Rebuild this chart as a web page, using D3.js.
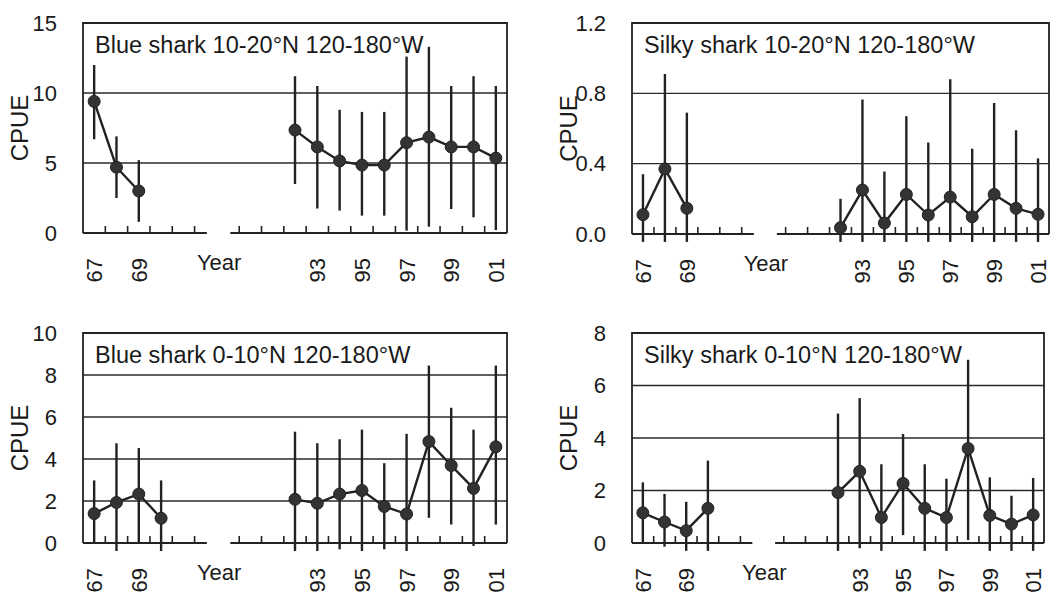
<!DOCTYPE html>
<html><head><meta charset="utf-8">
<script src="https://cdn.jsdelivr.net/npm/d3@7"></script>
<style>
body{margin:0;background:#fff}
text{font-family:"Liberation Sans",Arial,sans-serif;fill:#1a1a1a}
</style>
</head><body><svg id="c" width="1062" height="600"></svg>
<script>
// x categories (one band per year; "gap" is the axis break)
const categories = ["67","68","69","70","71","72","gap","90","91","92","93","94","95","96","97","98","99","00","01"];
const tickLabels = ["67","69","93","95","97","99","01"];

// Blue shark 10-20N
const blue1020Years = ["67","68","69","92","93","94","95","96","97","98","99","00","01"];
const blue1020Mean  = [9.4,4.7,3.0,7.35,6.15,5.15,4.85,4.85,6.45,6.85,6.15,6.15,5.35];
const blue1020Lo    = [6.7,2.5,0.8,3.5,1.75,1.6,1.24,1.24,0.17,0.45,1.71,1.12,0.21];
const blue1020Hi    = [12.0,6.9,5.2,11.2,10.5,8.8,8.65,8.65,12.6,13.3,10.5,11.2,10.5];
const blue1020Ticks = [0,5,10,15];

// Silky shark 10-20N
const silky1020Years = ["67","68","69","92","93","94","95","96","97","98","99","00","01"];
const silky1020Mean  = [0.11,0.37,0.146,0.036,0.25,0.062,0.225,0.108,0.21,0.098,0.225,0.146,0.112];
const silky1020Lo    = [-0.045,-0.045,-0.045,-0.045,-0.045,-0.045,-0.045,-0.045,-0.045,-0.045,-0.045,-0.045,-0.045];
const silky1020Hi    = [0.34,0.91,0.69,0.2,0.765,0.355,0.67,0.52,0.88,0.485,0.745,0.59,0.43];
const silky1020Ticks = [0,0.4,0.8,1.2];

// Blue shark 0-10N
const blue010Years = ["67","68","69","70","92","93","94","95","96","97","98","99","00","01"];
const blue010Mean  = [1.4,1.93,2.33,1.18,2.08,1.89,2.33,2.5,1.74,1.38,4.83,3.69,2.6,4.58];
const blue010Lo    = [0,-0.38,0,-0.38,-0.38,-0.38,-0.3,-0.38,-0.3,-0.38,1.2,0.88,-0.14,0.88];
const blue010Hi    = [2.98,4.75,4.52,2.98,5.3,4.75,4.94,5.4,3.8,5.2,8.45,6.44,5.4,8.45];
const blue010Ticks = [0,2,4,6,8,10];

// Silky shark 0-10N
const silky010Years = ["67","68","69","70","92","93","94","95","96","97","98","99","00","01"];
const silky010Mean  = [1.15,0.8,0.47,1.32,1.92,2.73,0.97,2.27,1.32,0.97,3.6,1.05,0.72,1.07];
const silky010Lo    = [0,-0.14,-0.3,-0.3,-0.3,-0.2,-0.3,0.3,-0.3,-0.3,0.11,-0.3,-0.3,-0.3];
const silky010Hi    = [2.31,1.87,1.57,3.14,4.93,5.52,3.0,4.15,3.0,2.45,6.98,2.5,1.8,2.48];
const silky010Ticks = [0,2,4,6,8];

const panels = [
  {title:"Blue shark 10-20°N 120-180°W", years:blue1020Years, mean:blue1020Mean, lo:blue1020Lo, hi:blue1020Hi, ticks:blue1020Ticks, fmt:d3.format("d"), box:{x0:83,x1:507,y0:23,y1:233}},
  {title:"Silky shark 10-20°N 120-180°W", years:silky1020Years, mean:silky1020Mean, lo:silky1020Lo, hi:silky1020Hi, ticks:silky1020Ticks, fmt:d3.format(".1f"), box:{x0:632,x1:1049,y0:23,y1:234}},
  {title:"Blue shark 0-10°N 120-180°W", years:blue010Years, mean:blue010Mean, lo:blue010Lo, hi:blue010Hi, ticks:blue010Ticks, fmt:d3.format("d"), box:{x0:83,x1:507,y0:333,y1:543}},
  {title:"Silky shark 0-10°N 120-180°W", years:silky010Years, mean:silky010Mean, lo:silky010Lo, hi:silky010Hi, ticks:silky010Ticks, fmt:d3.format("d"), box:{x0:632,x1:1044,y0:333,y1:543}}
];

const svg = d3.select("#c");
const ink = "#222";
const fontFam = "Liberation Sans, Arial, sans-serif";

panels.forEach(p => {
  const b = p.box;
  const g = svg.append("g");
  const x = d3.scaleBand().domain(categories).range([b.x0, b.x1]).padding(0);
  const bw = x.bandwidth();
  const yMax = d3.max(p.ticks);
  const y = d3.scaleLinear().domain([0, yMax]).range([b.y1, b.y0]);

  // gridlines
  g.selectAll(".grid").data(p.ticks.filter(t => t > 0 && t < yMax)).join("line")
    .attr("x1", b.x0).attr("x2", b.x1).attr("y1", d => y(d)).attr("y2", d => y(d))
    .attr("stroke", "#2a2a2a").attr("stroke-width", 1.3);

  // frame (left, top, right)
  g.append("path")
    .attr("d", `M${b.x0},${b.y1}V${b.y0}H${b.x1}V${b.y1}`)
    .attr("fill", "none").attr("stroke", ink).attr("stroke-width", 1.8);

  // broken bottom axis
  const breakA = b.x0 + 5.55 * bw, breakB = b.x0 + 6.6 * bw;
  g.append("path")
    .attr("d", `M${b.x0},${b.y1}H${breakA}M${breakB},${b.y1}H${b.x1}`)
    .attr("stroke", ink).attr("stroke-width", 1.9);
  const tickCats = categories.filter((c, i) => (i >= 1 && i <= 5) || i >= 7);
  g.selectAll(".xt").data(tickCats).join("line")
    .attr("x1", d => x(d)).attr("x2", d => x(d))
    .attr("y1", b.y1).attr("y2", b.y1 - 7)
    .attr("stroke", ink).attr("stroke-width", 1.6);

  // y axis labels
  const ya = g.append("g").attr("transform", `translate(${b.x0},0)`)
    .call(d3.axisLeft(y).tickValues(p.ticks).tickFormat(p.fmt).tickSize(0).tickPadding(26));
  ya.select(".domain").remove();
  ya.selectAll("text").style("font-size", "22px").style("font-family", fontFam).attr("fill", "#1a1a1a");

  // x axis labels (rotated)
  const xa = g.append("g").attr("transform", `translate(0,${b.y1})`)
    .call(d3.axisBottom(x).tickValues(tickLabels).tickSize(0));
  xa.select(".domain").remove();
  xa.selectAll("text")
    .attr("transform", "rotate(-90)")
    .attr("x", -25).attr("y", 0).attr("dy", "0.36em")
    .style("text-anchor", "end")
    .style("font-size", "22px").style("font-family", fontFam).attr("fill", "#1a1a1a");

  const cx = d => x(d) + bw / 2;
  const pts = p.years.map((yr, i) => ({yr, idx: categories.indexOf(yr), m: p.mean[i], lo: p.lo[i], hi: p.hi[i]}));

  // error bars
  g.selectAll(".eb").data(pts).join("line")
    .attr("x1", d => cx(d.yr)).attr("x2", d => cx(d.yr))
    .attr("y1", d => y(d.lo)).attr("y2", d => y(d.hi))
    .attr("stroke", ink).attr("stroke-width", 2.4);

  // connecting line segments (consecutive years only)
  const segs = [];
  pts.forEach((d, i) => {
    if (i === 0 || d.idx !== pts[i-1].idx + 1) segs.push([]);
    segs[segs.length - 1].push(d);
  });
  const line = d3.line().x(d => cx(d.yr)).y(d => y(d.m));
  g.selectAll(".seg").data(segs).join("path")
    .attr("d", line).attr("fill", "none").attr("stroke", ink).attr("stroke-width", 2.4);

  // markers
  g.selectAll(".pt").data(pts).join("circle")
    .attr("cx", d => cx(d.yr)).attr("cy", d => y(d.m)).attr("r", 6)
    .attr("fill", "#333").attr("stroke", "#222").attr("stroke-width", 1);

  // title
  g.append("text").attr("x", b.x0 + 12).attr("y", b.y0 + 30)
    .style("font-size", "23.5px").text(p.title);

  // CPUE label
  const cyMid = (b.y0 + b.y1) / 2;
  g.append("text")
    .attr("transform", `translate(${b.x0 - 64},${cyMid}) rotate(-90)`)
    .attr("text-anchor", "middle").attr("dy", "0.36em").style("font-size", "24px").text("CPUE");

  // Year label
  g.append("text").attr("x", b.x0 + 6.1 * bw).attr("y", b.y1 + 37)
    .attr("text-anchor", "middle").style("font-size", "22px").text("Year");
});
</script>
</body></html>
